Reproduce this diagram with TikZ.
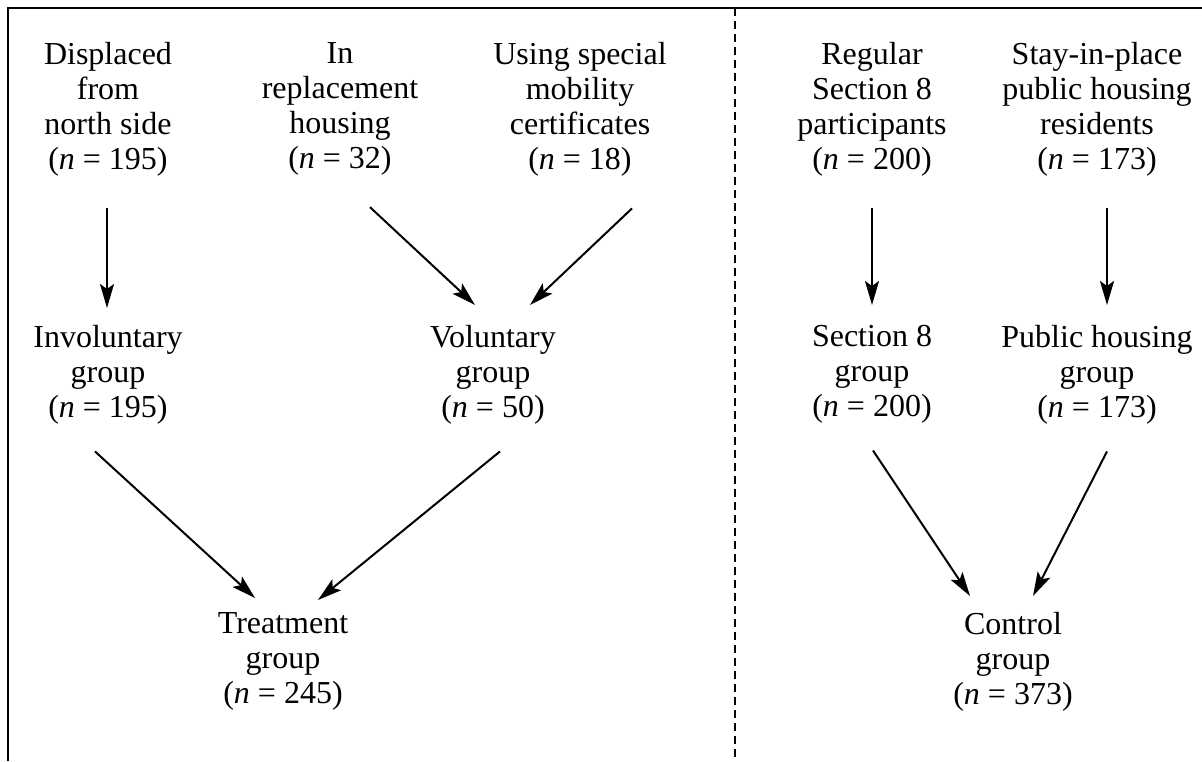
\documentclass[tikz,border=0pt]{standalone}
\usepackage{fontspec}
\setmainfont{Liberation Serif}
\usetikzlibrary{arrows.meta}

\begin{document}
\begin{tikzpicture}[x=1pt, y=-1pt,
  box/.style={anchor=north, inner sep=0pt, align=center,
    font=\fontsize{32}{35}\selectfont},
  arr/.style={line width=2pt, -{Stealth[length=24pt,width=14pt,inset=5pt]}}]
\useasboundingbox (0,0) rectangle (1202,761);

\draw[line width=1.5pt] (8,761) -- (8,8) -- (1202,8);
\draw[line width=2pt, dash pattern=on 8pt off 5pt] (735,8) -- (735,761);

\node[box] (displ) at (108,42) {Displaced\\from\\north side\\(\textit{n} = 195)};
\node[box] (repl) at (340,42) {In\\replacement\\housing\\(\textit{n} = 32)};
\node[box] (mobil) at (580,42) {Using special\\mobility\\certificates\\(\textit{n} = 18)};
\node[box] (regul) at (872,42) {Regular\\Section 8\\participants\\(\textit{n} = 200)};
\node[box] (stay) at (1097,42) {Stay-in-place\\public housing\\residents\\(\textit{n} = 173)};

\node[box] (invol) at (108,325) {Involuntary\\group\\(\textit{n} = 195)};
\node[box] (volun) at (493,325) {Voluntary\\group\\(\textit{n} = 50)};
\node[box] (secgrp) at (872,325) {Section 8\\group\\(\textit{n} = 200)};
\node[box] (pubgrp) at (1097,325) {Public housing\\group\\(\textit{n} = 173)};

\node[box] (treat) at (283,612) {Treatment\\group\\(\textit{n} = 245)};
\node[box] (ctrl) at (1013,612) {Control\\group\\(\textit{n} = 373)};

\draw[arr] ([shift={(-1,32)}]displ.south) -- ([shift={(-1,-17)}]invol.north);
\draw[arr] ([shift={(30,32)}]repl.south) -- ([shift={(-18,-20)}]volun.north);
\draw[arr] ([shift={(52,32)}]mobil.south) -- ([shift={(37,-20)}]volun.north);
\draw[arr] ([shift={(0,32)}]regul.south) -- ([shift={(0,-20)}]secgrp.north);
\draw[arr] ([shift={(10,32)}]stay.south) -- ([shift={(10,-20)}]pubgrp.north);

\draw[arr] ([shift={(-13,27)}]invol.south) -- ([shift={(-28,-14)}]treat.north);
\draw[arr] ([shift={(7,27)}]volun.south) -- ([shift={(35,-12)}]treat.north);
\draw[arr] ([shift={(1,27)}]secgrp.south) -- ([shift={(-43,-16)}]ctrl.north);
\draw[arr] ([shift={(10,27)}]pubgrp.south) -- ([shift={(20,-16)}]ctrl.north);

\end{tikzpicture}
\end{document}
